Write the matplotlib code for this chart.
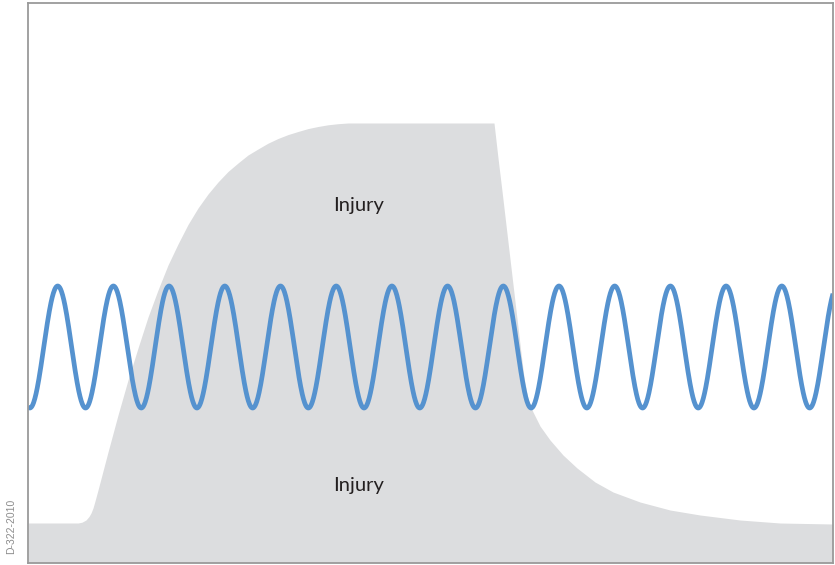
import matplotlib.pyplot as plt
import numpy as np

# gray "injury" region outline (x, height) in axes units (0..805 x 0..560)
area_x = [0, 50, 54, 58, 61, 63, 65, 67, 70, 75, 80, 90, 100, 110, 120, 130, 140, 150,
          160, 170, 180, 190, 200, 210, 220, 230, 240, 250, 260, 270, 280, 290, 300,
          310, 320, 335,
          466, 470, 474, 478, 482, 486, 490, 493, 496, 500, 505, 512, 522, 535, 549,
          567, 585, 612, 642, 672, 712, 752, 805]
area_y = [40, 40, 40.8, 43, 46.5, 50, 55, 62, 73, 92, 111, 148, 183, 215, 246, 273, 298, 319,
          338.5, 355, 369, 381, 391.5, 400, 408, 414, 419.8, 424.5, 428.4, 431.5, 434.4,
          436.5, 438.2, 439.3, 440, 440,
          440, 405, 372, 338, 304, 270, 236, 210, 186, 164, 151, 137, 123, 108, 95,
          81, 71, 61, 53, 48, 43, 40, 39]

# signal wave
wave_center = 216
wave_amp = 61
wave_period = 55.7
wave_peak0 = 29.7

label_text = "Injury"
label_pos = [(331, 358), (331, 77)]

fig = plt.figure(figsize=(8.35, 5.65), dpi=100)
ax = fig.add_axes([28/835, 2/565, 805/835, 560/565])

ax.fill_between(area_x, 0, area_y, color='#dcdddf', lw=0)

xs = np.linspace(0, 805, 2000)
ys = wave_center + wave_amp*np.cos(2*np.pi*(xs - wave_peak0)/wave_period)
ax.plot(xs, ys, color='#5592cf', lw=3.4, solid_capstyle='butt')

for (tx, ty) in label_pos:
    ax.text(tx, ty, label_text, ha='center', va='center', fontsize=14.5,
            family='Lato', color='#231f20')

ax.set_xlim(0, 805)
ax.set_ylim(0, 560)
ax.set_xticks([])
ax.set_yticks([])
for s in ax.spines.values():
    s.set_color('#9a9a9a')
    s.set_linewidth(1.3)

fig.text(11/835, 1 - 526/565, "D-322-2010", rotation=90, ha='center', va='center',
         fontsize=7.5, color='#8c8c8c', family='Liberation Sans')

fig.savefig('out.png', dpi=100)
